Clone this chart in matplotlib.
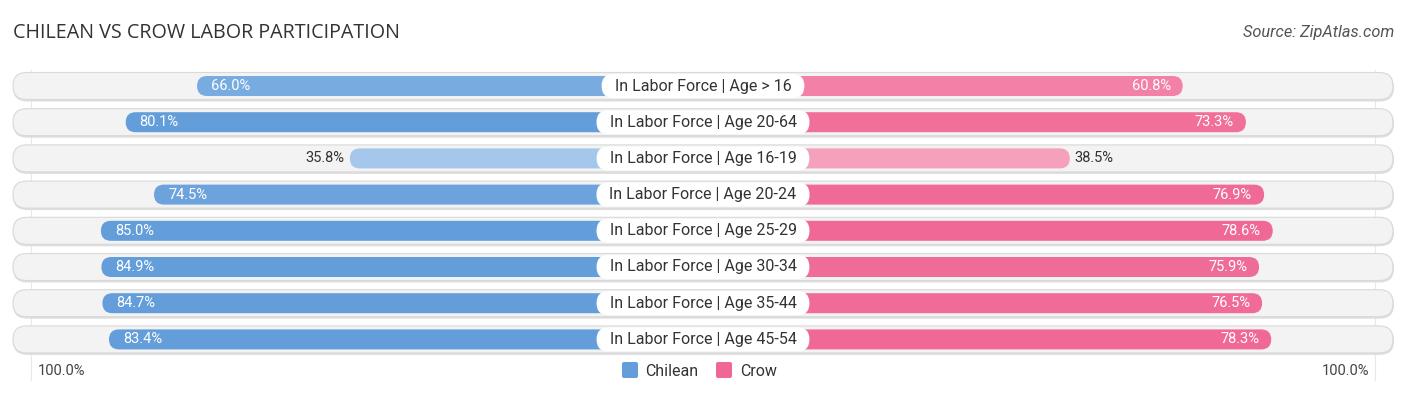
import matplotlib
matplotlib.use("Agg")
import matplotlib.pyplot as plt
from matplotlib.patches import FancyBboxPatch

# data
categories = ["In Labor Force | Age > 16", "In Labor Force | Age 20-64",
              "In Labor Force | Age 16-19", "In Labor Force | Age 20-24",
              "In Labor Force | Age 25-29", "In Labor Force | Age 30-34",
              "In Labor Force | Age 35-44", "In Labor Force | Age 45-54"]
chilean = [66.0, 80.1, 35.8, 74.5, 85.0, 84.9, 84.7, 83.4]
crow = [60.8, 73.3, 38.5, 76.9, 78.6, 75.9, 76.5, 78.3]

W, H = 1406, 395
fig = plt.figure(figsize=(W / 100, H / 100), dpi=100)
ax = fig.add_axes([0, 0, 1, 1])
ax.set_xlim(0, W)
ax.set_ylim(H, 0)
ax.axis("off")

FONT = "Roboto"
cx = 703          # centre line
off = 172         # bar part hidden under the label
k = 5.06          # px per percent
row0, step = 86, 36.2
blue_hi, blue_lo = (0.39, 0.62, 0.86), (0.68, 0.80, 0.93)
pink_hi, pink_lo = (0.94, 0.40, 0.58), (0.97, 0.68, 0.77)


def mix(lo, hi, v):
    t = max(0.0, min(1.0, (v - 30) / 50))
    return tuple(a + (b - a) * t for a, b in zip(lo, hi))


def rbox(x0, x1, yc, h, fc, ec="none", lw=0, z=1):
    # pill shape spanning x0..x1, height h, centred on yc
    r = h / 2
    p = FancyBboxPatch((x0 + r, yc), max(x1 - x0 - 2 * r, 0.01), 0.01,
                       boxstyle=f"round,pad={r},rounding_size={r}",
                       fc=fc, ec=ec, lw=lw, zorder=z)
    ax.add_patch(p)
    return p


# faint guide lines
ax.plot([31, 31], [70, 380], color="#e8e8e8", lw=0.8, zorder=0)
ax.plot([1375, 1375], [70, 380], color="#e8e8e8", lw=0.8, zorder=0)

for i, (cat, a, b) in enumerate(zip(categories, chilean, crow)):
    y = row0 + i * step
    # row background with soft shadow
    rbox(13, 1394, y + 1.5, 28, "#dedede", z=1)
    rbox(13, 1393, y, 27, "#f3f3f3", ec="#d9d9d9", lw=0.8, z=2)

    lx = cx - off - a * k
    rx = cx + off + b * k
    rbox(lx, cx, y, 20, mix(blue_lo, blue_hi, a), z=3)
    rbox(cx, rx, y, 20, mix(pink_lo, pink_hi, b), z=3)

    # centre label
    t = ax.text(cx, y, cat, ha="center", va="center", fontsize=11.5,
                family=FONT, color="#333333", zorder=6)
    fig.canvas.draw()
    bb = t.get_window_extent()
    half = bb.width / 2 + 13
    rbox(cx - half, cx + half, y, 24, "white", z=5)

    if a > 50:
        ax.text(lx + 14, y, f"{a:.1f}%", ha="left", va="center", fontsize=10.5,
                family=FONT, color="white", zorder=6)
    else:
        ax.text(lx - 5, y, f"{a:.1f}%", ha="right", va="center", fontsize=10.5,
                family=FONT, color="#333333", zorder=6)
    if b > 50:
        ax.text(rx - 12, y, f"{b:.1f}%", ha="right", va="center", fontsize=10.5,
                family=FONT, color="white", zorder=6)
    else:
        ax.text(rx + 5, y, f"{b:.1f}%", ha="left", va="center", fontsize=10.5,
                family=FONT, color="#333333", zorder=6)

# title / source
ax.text(13, 33, "CHILEAN VS CROW LABOR PARTICIPATION", ha="left", va="center",
        fontsize=14.2, family="Open Sans", color="#333333")
ax.text(1394, 33, "Source: ZipAtlas.com", ha="right", va="center",
        fontsize=11.8, family=FONT, style="italic", color="#555555")

# axis ends
ax.text(38, 371, "100.0%", ha="left", va="center", fontsize=10.5, family=FONT, color="#444444")
ax.text(1369, 371, "100.0%", ha="right", va="center", fontsize=10.5, family=FONT, color="#444444")

# legend
ax.add_patch(FancyBboxPatch((622, 362), 16, 16, boxstyle="round,pad=0,rounding_size=2",
                            fc=blue_hi, ec="none"))
ax.text(645, 371, "Chilean", ha="left", va="center", fontsize=11.5, family=FONT, color="#333333")
ax.add_patch(FancyBboxPatch((716, 362), 16, 16, boxstyle="round,pad=0,rounding_size=2",
                            fc=pink_hi, ec="none"))
ax.text(740, 371, "Crow", ha="left", va="center", fontsize=11.5, family=FONT, color="#333333")

fig.savefig("out.png", dpi=100, facecolor="white")
